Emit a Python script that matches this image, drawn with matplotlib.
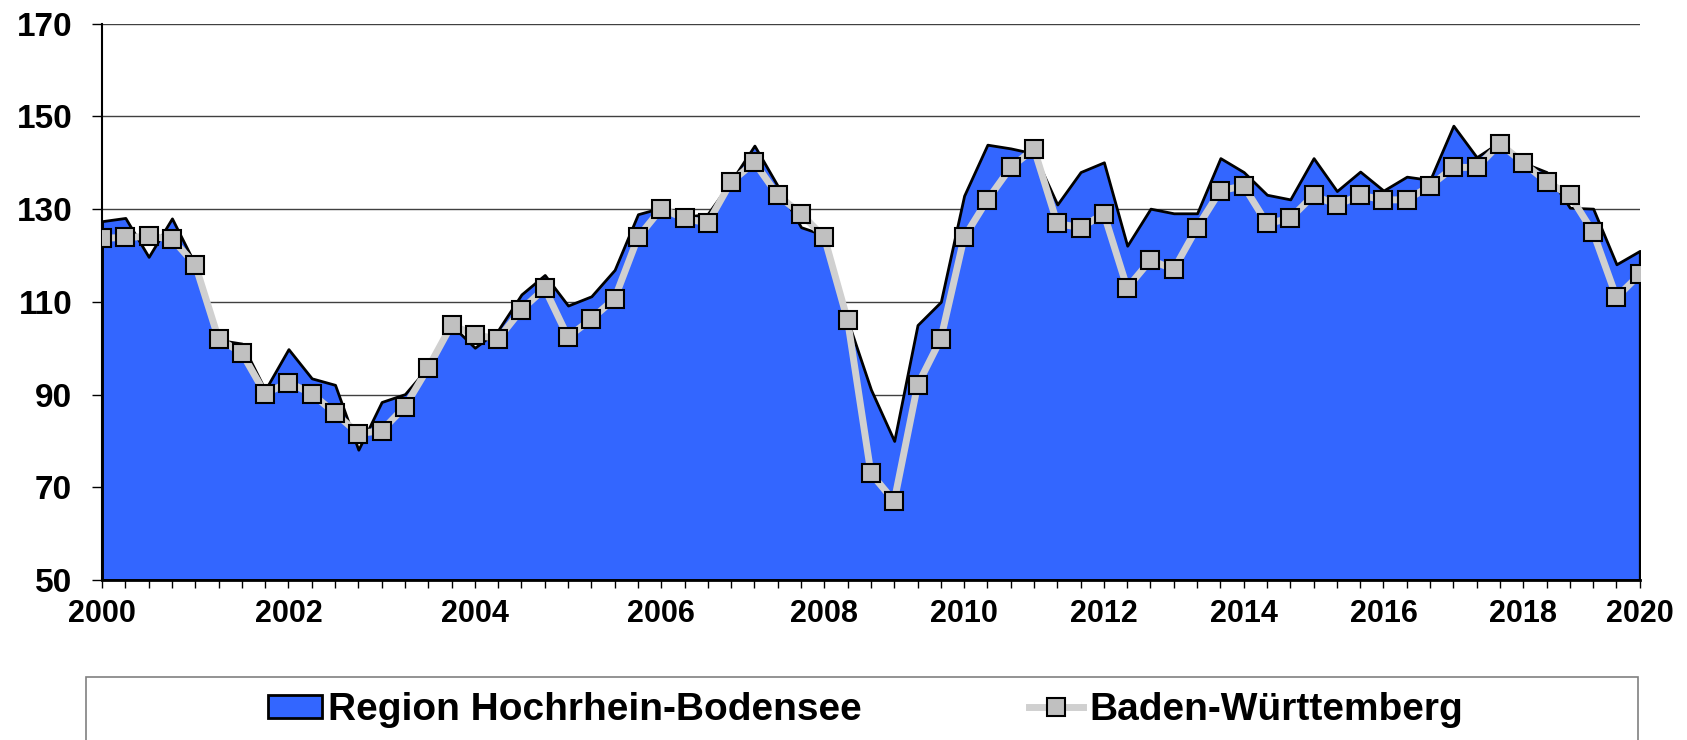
import numpy as np
from matplotlib import pyplot as plt
from matplotlib.patches import Rectangle

plt.rcParams['font.family'] = ['Liberation Sans', 'DejaVu Sans']
plt.rcParams['font.weight'] = 'bold'

# survey points (category axis), year labels at selected points
region_vals = [127.4, 128.1, 119.7, 128.0, 118.0, 101.8, 101.0, 91.0, 99.8, 93.5,
               92.1, 78.1, 88.4, 90.1, 96.0, 105.0, 100.1, 103.9, 111.6, 115.8,
               109.2, 111.2, 116.9, 128.9, 130.3, 128.3, 129.0, 136.0, 143.7, 135.0,
               126.1, 124.4, 106.0, 91.1, 80.0, 105.0, 110.0, 132.9, 143.9, 143.1,
               142.0, 131.0, 138.0, 140.1, 122.1, 130.1, 129.1, 129.1, 141.0, 138.0,
               133.1, 132.1, 141.0, 133.9, 138.1, 134.0, 137.0, 136.3, 148.0, 141.2,
               144.5, 140.0, 138.0, 130.3, 130.1, 118.1, 121.0]
bw_vals = [123.7, 123.9, 124.1, 123.6, 118.0, 102.0, 99.0, 90.2, 92.6, 90.2,
           86.0, 81.6, 82.2, 87.4, 95.8, 105.0, 102.9, 102.0, 108.3, 112.9,
           102.4, 106.3, 110.7, 123.9, 130.1, 128.0, 127.0, 135.9, 140.1, 133.0,
           129.0, 123.9, 106.0, 73.0, 67.0, 92.0, 102.0, 123.9, 132.0, 139.0,
           143.0, 126.9, 126.0, 129.0, 113.0, 119.0, 117.0, 126.0, 134.0, 135.0,
           126.9, 128.0, 133.0, 130.9, 133.0, 132.0, 132.0, 135.0, 139.0, 139.0,
           144.1, 140.0, 135.9, 133.0, 125.0, 111.0, 115.9]
year_pos = [0, 8, 16, 24, 31, 37, 43, 49, 55, 61, 66]
year_labels = ['2000', '2002', '2004', '2006', '2008', '2010',
               '2012', '2014', '2016', '2018', '2020']
y_ticks = [50, 70, 90, 110, 130, 150, 170]

x = np.arange(len(region_vals))

fig = plt.figure(figsize=(16.87, 7.40), dpi=100)
ax = fig.add_axes([0.0605, 0.2162, 0.9115, 0.7518])

ax.fill_between(x, region_vals, 50, facecolor='#3366FF', edgecolor='black',
                linewidth=2, zorder=2, label='Region Hochrhein-Bodensee')
ax.plot(x, bw_vals, color='#d0d0d0', lw=5, marker='s', markersize=13,
        markerfacecolor='#c0c0c0', markeredgecolor='black',
        markeredgewidth=1.5, zorder=3, label='Baden-Württemberg')

ax.set_xlim(0, len(x) - 1)
ax.set_ylim(50, 170)
ax.set_yticks(y_ticks)
ax.set_xticks(x, minor=True)
ax.set_xticks(year_pos)
ax.set_xticklabels(year_labels)
ax.yaxis.grid(True, color='#404040', lw=1)
ax.set_axisbelow(True)

for s in ['top', 'right']:
    ax.spines[s].set_visible(False)
ax.spines['left'].set_linewidth(1.5)
ax.spines['bottom'].set_linewidth(2)

ax.tick_params(axis='y', labelsize=24, length=7.5, width=1, pad=14)
ax.tick_params(axis='x', which='both', length=6, width=1, direction='out')
ax.tick_params(axis='x', which='major', labelsize=22, pad=8)

# legend box (cut off at the bottom like the original)
fig.patches.append(Rectangle((86 / 1687, -0.1), (1638 - 86) / 1687, 0.185,
                             transform=fig.transFigure, facecolor='none',
                             edgecolor='#808080', linewidth=1.2))
fig.legend(loc='center', bbox_to_anchor=(0.513, 0.0405), ncol=2,
           frameon=False, fontsize=28, handlelength=1.4, handleheight=0.55,
           handletextpad=0.15, columnspacing=4.3, numpoints=1)

fig.savefig('out.png', dpi=100)
